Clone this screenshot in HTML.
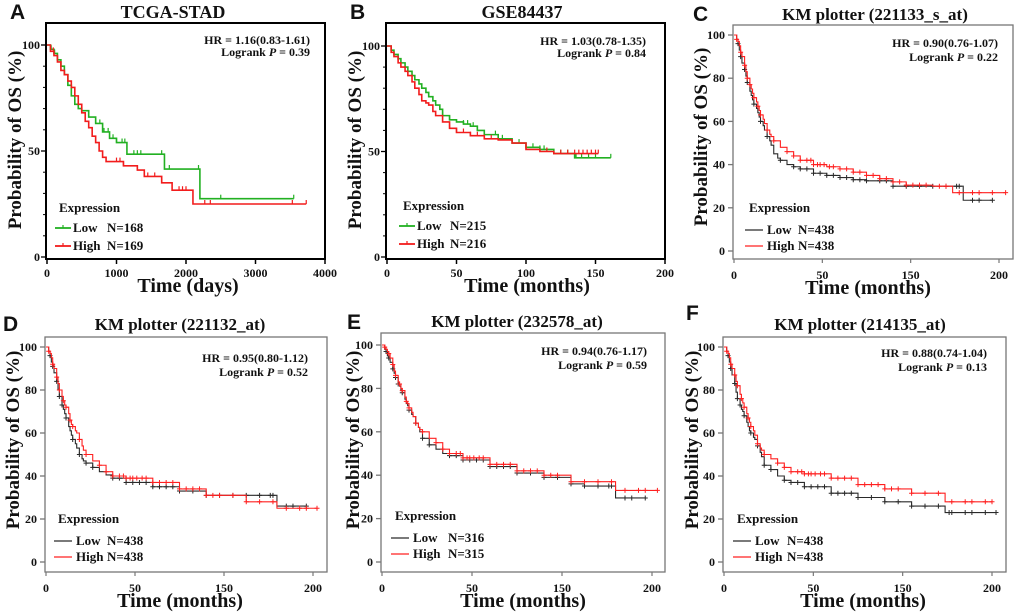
<!DOCTYPE html>
<html><head><meta charset="utf-8">
<style>
html,body{margin:0;padding:0;background:#fff;}
svg{display:block;}
text{font-family:"Liberation Serif",serif;font-weight:bold;fill:#111;}
.lett{font-family:"Liberation Sans",sans-serif;font-weight:bold;font-size:21px;}
</style></head>
<body>
<svg id="fig" width="1020" height="614" viewBox="0 0 1020 614"></svg>
<script>
// ---- Data (time, survival %) ----
const aLowT=[0,50,100,150,200,250,300,350,400,450,500,600,700,800,900,1000,1150,1690,2200,3550];
const aLowS=[100,98,96,93,90,86,81,76,72,70,69,66,63,59,56,54,48.5,41.5,27.5,27.5];
const aHighT=[0,50,100,150,200,250,300,350,400,450,500,550,600,650,700,750,800,850,1100,1300,1400,1650,1700,1800,2100,3730];
const aHighS=[100,97,95,92,88,86,83,80,76,72,68,64,61,57,54,50,47,45,43,41,38,35,35,31.5,25,25];
const aLowC=[60,110,700,760,820,880,950,1000,1080,1120,1250,1300,1350,1650,1760,2180,2500,3550];
const aHighC=[90,1000,1050,1100,1450,1550,1650,1900,1950,2000,2270,2350,3530,3730];

const bLowT=[0,3,5,8,10,13,15,18,20,23,25,28,30,33,35,38,40,45,50,55,60,65,70,80,90,100,110,120,135,161];
const bLowS=[100,98,96,94,92,90,88,86,84,82,80,78,76,74,72,70,67,65,64,63,62,60,58,56,54,52,51,49,47,47];
const bHighT=[0,3,5,8,10,13,15,18,20,23,25,28,30,33,35,40,45,50,60,70,80,90,100,110,120,152];
const bHighS=[100,97,95,92,90,88,86,83,80,77,74,73,72,69,67,64,61,59,57.5,56,55.5,54,51,50,49,49];
const bLowC=[40,45,55,58,62,65,70,78,80,83,95,105,110,113,120,125,130,136,140,145,150,161];
const bHighC=[45,50,55,60,65,70,75,100,115,125,130,135,138,141,144,147,150,152];

const cLowT=[0,2,3,4,5,6,8,9,10,12,13,14,15,17,18,19,20,22,23,25,27,28,30,33,35,40,45,50,60,70,80,90,100,120,150,173,195];
const cLowS=[100,98,96,93,90,87,84,81,78,74,72,70,68,66,64,62,60,58,56,53,51,49,45,43,42,40,39,38,36,35,34,33,32.5,30,30,23.5,23.5];
const cHighT=[0,2,3,4,5,6,8,9,10,12,13,14,15,17,18,19,20,22,23,25,27,28,30,35,40,45,50,60,70,80,90,100,110,120,130,150,165,205];
const cHighS=[100,98,97,95,92,90,86,83,80,77,75,73,71,69,67,65,63,61,59,56,54,53,51,48,46,44,42,40,39,38,36.5,35,33.5,32,30.5,30,27,27];
const cLowC=[3,5,8,10,15,20,25,35,45,50,55,60,65,70,75,80,85,90,95,100,110,115,120,130,140,150,160,168,170,180,185,195];
const cHighC=[2,5,8,10,12,15,18,20,25,30,40,45,50,55,58,60,63,65,68,72,75,80,85,90,95,100,105,110,115,120,125,130,135,140,145,155,160,170,180,185,195,205];

const dLowT=[0,2,3,4,5,6,8,9,10,12,13,14,15,17,18,19,20,22,23,25,27,28,30,35,40,45,50,60,80,100,120,150,173,195];
const dLowS=[100,98,96,93,91,88,84,80,77,73,71,69,67,63,61,59,57,55,53,50,48,47,46,44,42,40.5,39,37,35,33,31,31,26,26];
const dHighT=[0,2,3,4,5,6,8,9,10,12,13,14,15,17,18,19,20,22,23,25,27,28,30,35,40,45,50,60,80,100,120,150,165,173,203];
const dHighS=[100,98,97,95,92,90,86,83,80,77,75,73,72,69,66,64,63,61,60,57,54,52,50,47,45,42,40,39,37,34,31,28,28,25,25];
const dLowC=[3,5,8,10,12,15,20,25,30,35,50,55,60,65,70,75,80,85,90,95,100,110,120,130,140,150,160,168,170,180,185,195];
const dHighC=[2,5,8,10,13,15,18,20,25,30,40,45,50,55,58,60,63,65,68,72,75,80,85,90,95,100,105,110,115,120,125,130,140,150,160,170,180,190,195,203];

const eLowT=[0,2,3,4,5,6,8,9,10,12,13,14,15,17,18,19,20,22,23,25,27,28,30,35,40,45,50,60,80,100,120,140,150,173,195];
const eLowS=[100,98,97,95,94,92,89,87,85,82,81,79,78,75,73,72,70,68,67,64,62,60,57,54,52,50,49,47,44,41,39,36,35,29.5,29.5];
const eHighT=[0,2,3,4,5,6,8,9,10,12,13,14,15,17,18,19,20,22,23,25,27,28,30,35,40,45,50,60,80,100,120,140,173,204];
const eHighS=[100,99,98,97,96,94,91,88,86,83,82,80,79,76,74,73,71,69,67,64,62,61,60,57,55,52,50,48,45,42,40,37,33,33];
const eLowC=[3,5,8,10,12,15,20,25,30,35,50,55,60,65,70,75,80,85,90,95,100,110,120,130,140,150,160,168,170,180,185,195];
const eHighC=[2,5,8,10,13,15,18,20,25,30,40,45,50,55,58,60,63,65,68,72,75,80,85,90,95,100,105,110,115,120,125,130,140,150,160,170,180,190,195,204];

const fLowT=[0,2,3,4,5,6,8,9,10,12,13,14,15,17,18,19,20,22,23,25,27,28,30,35,40,45,50,60,80,100,120,140,150,165,203];
const fLowS=[100,98,96,93,90,87,83,79,76,73,71,70,68,65,63,61,60,58,57,54,51,49,45,43,40,38,37,35,32,30,28,26,26,23,23];
const fHighT=[0,2,3,4,5,6,8,9,10,12,13,14,15,17,18,19,20,22,23,25,27,28,30,35,40,45,50,60,80,100,120,140,150,165,200];
const fHighS=[100,98,97,95,92,90,87,84,82,78,76,74,72,69,67,65,63,61,59,55,53,52,50,48,46,44,42,41,39,36,34,32,32,28,28];
const fLowC=[3,5,8,10,12,15,20,25,30,35,45,50,55,60,65,70,75,80,85,90,95,100,110,120,130,140,150,160,168,170,180,185,195,203];
const fHighC=[2,5,8,10,13,15,18,20,25,30,40,45,50,55,58,60,63,65,68,72,75,80,85,90,95,100,105,110,115,120,125,130,140,150,160,170,180,185,195,200];

const abXTicksA=[0,1000,2000,3000,4000];
const abXTicksB=[0,50,100,150,200];
const kmXLabels=["0","50","150","200"];
const abYTicks=[0,50,100];
const kmYTicks=[0,20,40,60,80,100];

const NS="http://www.w3.org/2000/svg";
const svg=document.getElementById('fig');
function mk(tag,attrs,parent,txt){const e=document.createElementNS(NS,tag);for(const k in attrs)e.setAttribute(k,attrs[k]);if(txt!==undefined)e.textContent=txt;(parent||svg).appendChild(e);return e;}

function survAt(T,S,t){let s=S[0];for(let i=0;i<T.length;i++){if(T[i]<=t)s=S[i];}return s;}

function panel(p){
  const g=mk('g',{});
  
  
  const sx=t=>p.x0+(t/p.xmax)*(p.x1-p.x0);
  const sy=s=>p.y0-(s/100)*(p.y0-p.y100);
  const L=mk('text',{x:p.lx,y:p.ly,class:'lett'},g,p.letter);
  
  
  const T=mk('text',{x:p.tx,y:p.ty,'text-anchor':'middle','font-size':p.km?17:18},g,p.title);
  
  
  const F=mk('rect',{x:p.fr[0],y:p.fr[1],width:p.fr[2]-p.fr[0],height:p.fr[3]-p.fr[1],fill:'none',stroke:p.km?'#777':'#000','stroke-width':p.km?1.3:2},g);
  
  
  const yt=p.km?kmYTicks:abYTicks;
  yt.forEach(v=>{
    const y=sy(v);
    mk('line',{x1:p.fr[0]-5,x2:p.fr[0],y1:y,y2:y,stroke:p.km?'#777':'#000','stroke-width':1.3},g);
    const t=mk('text',{x:p.fr[0]-(p.km?8:6),y:y+4,'text-anchor':'end','font-size':12},g,String(v));
    
    
  });
  if(!p.km){for(let v=10;v<100;v+=10){if(v===50)continue;const y=sy(v);mk('line',{x1:p.fr[0]-3,x2:p.fr[0],y1:y,y2:y,stroke:'#000','stroke-width':1},g);}}
  if(p.km){
    kmXLabels.forEach((lab,i)=>{
      const x=p.x0+i/(kmXLabels.length-1)*(p.x1-p.x0);
      mk('line',{x1:x,x2:x,y1:p.fr[3],y2:p.fr[3]+4,stroke:'#777','stroke-width':1.2},g);
      const t=mk('text',{x:x,y:p.fr[3]+20,'text-anchor':'middle','font-size':12},g,lab);
      
      
    });
  } else {
    p.xticks.forEach(v=>{
      const x=sx(v);
      mk('line',{x1:x,x2:x,y1:p.fr[3],y2:p.fr[3]+5,stroke:'#000','stroke-width':1.5},g);
      const t=mk('text',{x:x,y:p.fr[3]+18,'text-anchor':'middle','font-size':12},g,String(v));
      
      
    });
  }
  const xt=mk('text',{x:p.xtx,y:p.xty,'text-anchor':'middle','font-size':20},g,p.xtitle);
  
  
  const ytt=mk('text',{x:0,y:0,'text-anchor':'middle','font-size':19,transform:`translate(${p.ytx},${p.yty}) rotate(-90)`},g,'Probability of OS (%)');
  
  
  const h1=mk('text',{x:p.hx,y:p.hy,'text-anchor':'end','font-size':12},g,'HR = '+p.hr);
  
  
  const h2=mk('text',{x:p.hx,y:p.hy+(p.km?14:12),'text-anchor':'end','font-size':12},g);
  
  
  h2.innerHTML='Logrank <tspan font-style="italic">P</tspan> = '+p.pv;
  p.series.forEach(s=>{
    let d='M'+sx(s.T[0])+','+sy(s.S[0]);
    for(let i=1;i<s.T.length;i++){d+=' H'+sx(s.T[i])+' V'+sy(s.S[i]);}
    const path=mk('path',{d:d,fill:'none',stroke:s.color,'stroke-width':p.km?1.1:1.6},g);
    
    
    s.C.forEach(t=>{
      const x=sx(t),y=sy(survAt(s.T,s.S,t));
      if(p.km){mk('path',{d:`M${x-2.5},${y}H${x+2.5}M${x},${y-2.5}V${y+2.5}`,stroke:s.color,'stroke-width':1},g);}
      else{mk('path',{d:`M${x},${y}V${y-4}`,stroke:s.color,'stroke-width':1.2},g);}
    });
  });
  const ex=mk('text',{x:p.lgx,y:p.lgy,'font-size':13},g,'Expression');
  
  
  p.series.forEach((s,i)=>{
    const y=p.lgy+(p.km?18:16)+i*(p.km?16:18);
    const le=mk('g',{},g);
    
    
    mk('line',{x1:p.lgx-4,x2:p.lgx+(p.km?14:12),y1:y,y2:y,stroke:s.color,'stroke-width':p.km?1.3:1.8},le);
    if(!p.km)mk('line',{x1:p.lgx+4,x2:p.lgx+4,y1:y,y2:y-3,stroke:s.color,'stroke-width':1.2},le);
    mk('text',{x:p.lgx+(p.km?18:14),y:y+4,'font-size':13},le,s.label);
    mk('text',{x:p.lnx,y:y+4,'font-size':13},le,'N='+s.n);
  });
}

const G='#22b022',R='#f21c1c',K='#2a2a2a',RK='#ff2020';
panel({key:'a',letter:'A',lx:10,ly:19,title:'TCGA-STAD',tx:173,ty:18,km:false,
  x0:47,x1:325,xmax:4000,y0:257,y100:45,fr:[46,23,325,259],xticks:abXTicksA,
  xtitle:'Time (days)',xtx:188,xty:292,ytx:21,yty:140,hr:'1.16(0.83-1.61)',pv:'0.39',hx:310,hy:44,
  lgx:59,lgy:212,lnx:107,
  series:[{name:'low',label:'Low',n:168,color:G,T:aLowT,S:aLowS,C:aLowC},{name:'high',label:'High',n:169,color:R,T:aHighT,S:aHighS,C:aHighC}]});
panel({key:'b',letter:'B',lx:350,ly:19,title:'GSE84437',tx:522,ty:18,km:false,
  x0:387,x1:665,xmax:200,y0:257,y100:46,fr:[386,23,665,259],xticks:abXTicksB,
  xtitle:'Time (months)',xtx:527,xty:292,ytx:361,yty:140,hr:'1.03(0.78-1.35)',pv:'0.84',hx:646,hy:45,
  lgx:403,lgy:210,lnx:450,
  series:[{name:'low',label:'Low',n:215,color:G,T:bLowT,S:bLowS,C:bLowC},{name:'high',label:'High',n:216,color:R,T:bHighT,S:bHighS,C:bHighC}]});
panel({key:'c',letter:'C',lx:693,ly:21,title:'KM plotter (221133_s_at)',tx:875,ty:20,km:true,
  x0:734,x1:999,xmax:200,y0:251,y100:35,fr:[733,25,1013,259],
  xtitle:'Time (months)',xtx:868,xty:294,ytx:707,yty:137,hr:'0.90(0.76-1.07)',pv:'0.22',hx:998,hy:47,
  lgx:749,lgy:212,lnx:798,
  series:[{name:'low',label:'Low',n:438,color:K,T:cLowT,S:cLowS,C:cLowC},{name:'high',label:'High',n:438,color:RK,T:cHighT,S:cHighS,C:cHighC}]});
panel({key:'d',letter:'D',lx:3,ly:331,title:'KM plotter (221132_at)',tx:180,ty:330,km:true,
  x0:46,x1:313,xmax:200,y0:562,y100:347,fr:[45,337,327,572],
  xtitle:'Time (months)',xtx:180,xty:607,ytx:19,yty:440,hr:'0.95(0.80-1.12)',pv:'0.52',hx:308,hy:362,
  lgx:58,lgy:523,lnx:107,
  series:[{name:'low',label:'Low',n:438,color:K,T:dLowT,S:dLowS,C:dLowC},{name:'high',label:'High',n:438,color:RK,T:dHighT,S:dHighS,C:dHighC}]});
panel({key:'e',letter:'E',lx:347,ly:329,title:'KM plotter (232578_at)',tx:517,ty:327,km:true,
  x0:382,x1:652,xmax:200,y0:562,y100:345,fr:[381,333,665,572],
  xtitle:'Time (months)',xtx:523,xty:607,ytx:359,yty:440,hr:'0.94(0.76-1.17)',pv:'0.59',hx:647,hy:355,
  lgx:395,lgy:520,lnx:448,
  series:[{name:'low',label:'Low',n:316,color:K,T:eLowT,S:eLowS,C:eLowC},{name:'high',label:'High',n:315,color:RK,T:eHighT,S:eHighS,C:eHighC}]});
panel({key:'f',letter:'F',lx:686,ly:320,title:'KM plotter (214135_at)',tx:860,ty:330,km:true,
  x0:724,x1:992,xmax:200,y0:562,y100:347,fr:[723,337,1006,572],
  xtitle:'Time (months)',xtx:863,xty:607,ytx:698,yty:440,hr:'0.88(0.74-1.04)',pv:'0.13',hx:987,hy:357,
  lgx:737,lgy:523,lnx:787,
  series:[{name:'low',label:'Low',n:438,color:K,T:fLowT,S:fLowS,C:fLowC},{name:'high',label:'High',n:438,color:RK,T:fHighT,S:fHighS,C:fHighC}]});
</script>
</body></html>
